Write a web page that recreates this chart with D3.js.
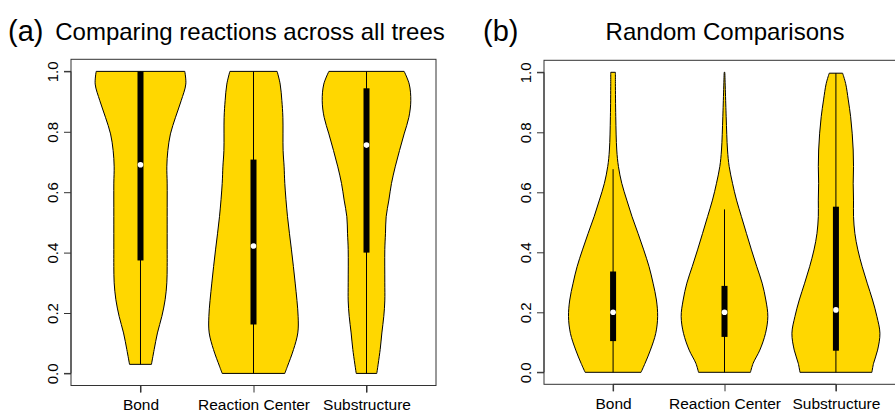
<!DOCTYPE html>
<html><head><meta charset="utf-8">
<script src="https://cdn.jsdelivr.net/npm/d3@7"></script>
<style>
body{margin:0;background:#fff}
svg text{font-family:"Liberation Sans",Arial,Helvetica,sans-serif;fill:#000}
</style>
</head><body>
<svg id="chart" width="895" height="412"></svg>
<script>
// ---------- data ----------
const categories = ["Bond", "Reaction Center", "Substructure"];
const yTicks = [0, 0.2, 0.4, 0.6, 0.8, 1.0];
const yTickLabels = ["0.0", "0.2", "0.4", "0.6", "0.8", "1.0"];
const panelLetters = ["(a)", "(b)"];
const panelTitles = ["Comparing reactions across all trees", "Random Comparisons"];

// violin outlines: [value, half-width (category units)]
const allTreesBond = [[0.03,0.097],[0.079,0.121],[0.134,0.150],[0.189,0.189],[0.244,0.218],[0.30,0.233],[0.354,0.236],[0.41,0.236],[0.52,0.236],[0.63,0.236],[0.684,0.233],[0.738,0.242],[0.793,0.265],[0.848,0.31],[0.903,0.36],[0.958,0.401],[1.0,0.392]];
const allTreesReaction = [[0.0,0.277],[0.024,0.301],[0.079,0.354],[0.134,0.392],[0.189,0.395],[0.299,0.369],[0.409,0.336],[0.519,0.301],[0.629,0.277],[0.684,0.271],[0.738,0.262],[0.848,0.26],[0.903,0.251],[0.958,0.236],[1.0,0.209]];
const allTreesSub = [[0.0,0.091],[0.079,0.121],[0.134,0.136],[0.189,0.153],[0.24,0.162],[0.30,0.162],[0.41,0.162],[0.464,0.168],[0.519,0.174],[0.574,0.198],[0.629,0.221],[0.684,0.254],[0.738,0.292],[0.793,0.333],[0.848,0.375],[0.903,0.392],[0.958,0.378],[1.0,0.333]];

const randomBond = [[0.0,0.251],[0.03,0.287],[0.074,0.335],[0.13,0.383],[0.186,0.40],[0.241,0.389],[0.297,0.359],[0.352,0.323],[0.408,0.275],[0.463,0.224],[0.519,0.170],[0.574,0.123],[0.63,0.078],[0.686,0.048],[0.741,0.033],[0.852,0.024],[0.963,0.021],[1.0,0.021]];
const randomReaction = [[0.0,0.233],[0.03,0.257],[0.074,0.317],[0.13,0.368],[0.186,0.389],[0.241,0.371],[0.297,0.338],[0.352,0.29],[0.408,0.242],[0.463,0.197],[0.519,0.152],[0.574,0.108],[0.63,0.072],[0.686,0.042],[0.741,0.027],[0.852,0.015],[1.0,0.003]];
const randomSub = [[0.0,0.323],[0.03,0.338],[0.074,0.374],[0.13,0.395],[0.186,0.368],[0.241,0.329],[0.297,0.281],[0.352,0.236],[0.408,0.197],[0.463,0.170],[0.519,0.158],[0.574,0.158],[0.63,0.155],[0.686,0.158],[0.741,0.155],[0.797,0.146],[0.852,0.132],[0.908,0.111],[0.963,0.087],[0.997,0.060]];

// box summaries: [lower whisker, Q1, median, Q3, upper whisker]
const allTreesBoxes = [[0.03,0.374,0.691,1.0,1.0],[0.0,0.162,0.422,0.708,1.0],[0.0,0.40,0.756,0.944,1.0]];
const randomBoxes = [[0.0,0.104,0.20,0.336,0.677],[0.0,0.118,0.20,0.288,0.543],[0.0,0.072,0.208,0.552,0.997]];

// ---------- layout ----------
const panels = [
  {box:{l:71, r:436, t:59.3, b:385.5}, xdom:[0.385,3.615], letterX:8, titleX:250,
   violins:[allTreesBond, allTreesReaction, allTreesSub], boxes: allTreesBoxes},
  {box:{l:544, r:905, t:60.3, b:384.3}, xdom:[0.38,3.62], letterX:483, titleX:725,
   violins:[randomBond, randomReaction, randomSub], boxes: randomBoxes}
];

const svg = d3.select("#chart");
const fill = "#FFD700";

panels.forEach((p, pi) => {
  const x = d3.scaleLinear().domain(p.xdom).range([p.box.l, p.box.r]);
  const y = d3.scaleLinear().domain([-0.04, 1.04]).range([p.box.b, p.box.t]);
  const unit = x(1) - x(0);
  const g = svg.append("g");

  // violins
  p.violins.forEach((prof, i) => {
    const cx = x(i + 1);
    const area = d3.area()
      .y(d => y(d[0]))
      .x0(d => cx - d[1] * unit)
      .x1(d => cx + d[1] * unit)
      .curve(d3.curveCatmullRom.alpha(0.5));
    g.append("path").attr("d", area(prof))
      .attr("fill", fill).attr("stroke", "#000").attr("stroke-width", 1);
  });

  // boxes
  p.boxes.forEach((b, i) => {
    const cx = x(i + 1);
    g.append("line").attr("x1", cx).attr("x2", cx)
      .attr("y1", y(b[0])).attr("y2", y(b[4]))
      .attr("stroke", "#000").attr("stroke-width", 1);
    g.append("rect").attr("x", cx - 3).attr("width", 6)
      .attr("y", y(b[3])).attr("height", y(b[1]) - y(b[3]))
      .attr("fill", "#000");
    g.append("circle").attr("cx", cx).attr("cy", y(b[2])).attr("r", 2.8)
      .attr("fill", "#fff");
  });

  // frame
  g.append("rect").attr("x", p.box.l).attr("y", p.box.t)
    .attr("width", p.box.r - p.box.l).attr("height", p.box.b - p.box.t)
    .attr("fill", "none").attr("stroke", "#333").attr("stroke-width", 1);

  // y axis
  const ya = d3.axisLeft(y).tickValues(yTicks).tickSize(7).tickPadding(0)
    .tickFormat((d, k) => yTickLabels[k]);
  const yg = g.append("g").attr("transform", `translate(${p.box.l},0)`).call(ya);
  yg.select(".domain").attr("d", `M-7,${y(0)}H0V${y(1)}H-7`).attr("stroke", "#333");
  yg.selectAll(".tick line").attr("stroke", "#333");
  yg.selectAll(".tick text")
    .attr("x", null).attr("dy", null)
    .attr("transform", "translate(-13.5,0) rotate(-90)")
    .attr("text-anchor", "middle")
    .style("font-size", "15px");
  yg.attr("font-family", null).attr("font-size", null);

  // x axis
  const xa = d3.axisBottom(x).tickValues([1, 2, 3]).tickSize(7).tickPadding(0)
    .tickFormat((d, k) => categories[k]);
  const xg = g.append("g").attr("transform", `translate(0,${p.box.b})`).call(xa);
  xg.select(".domain").attr("d", `M${x(1)},7V0H${x(3)}V7`).attr("stroke", "#333");
  xg.selectAll(".tick line").attr("stroke", "#333");
  xg.selectAll(".tick text").attr("y", 24.3).attr("dy", null)
    .style("font-size", "15.5px");
  xg.attr("font-family", null).attr("font-size", null);

  // titles
  svg.append("text").attr("x", p.letterX).attr("y", 41)
    .style("font-size", "29px").text(panelLetters[pi]);
  svg.append("text").attr("x", p.titleX).attr("y", 40)
    .attr("text-anchor", "middle").style("font-size", "24px").text(panelTitles[pi]);
});
</script>
</body></html>
